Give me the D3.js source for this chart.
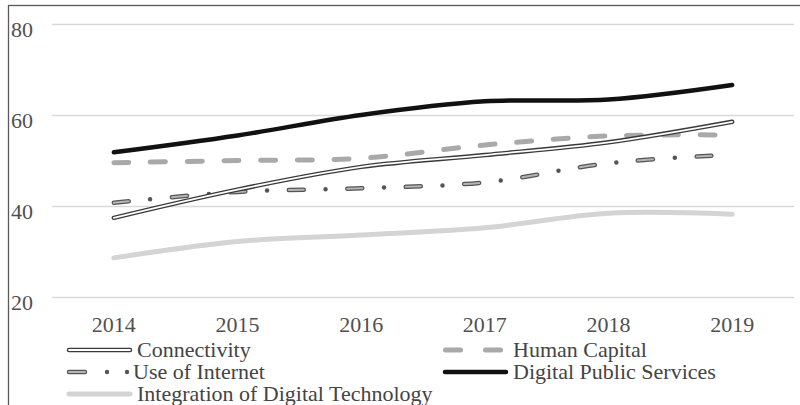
<!DOCTYPE html>
<html><head><meta charset="utf-8">
<script src="https://cdn.jsdelivr.net/npm/d3@7"></script>
<style>
html,body{margin:0;padding:0;background:#fff;overflow:hidden;}
svg{display:block;}
text{font-family:"Liberation Serif","Times New Roman",serif;}
</style></head>
<body>
<svg id="chart" width="800" height="405"></svg>
<script>
const years = ["2014","2015","2016","2017","2018","2019"];
const yTicks = [20,40,60,80];
const connectivity = [37.4, 43.6, 48.6, 51.2, 54.0, 58.5];
const humanCapital = [49.5, 50.0, 50.5, 53.4, 55.4, 55.6];
const useOfInternet = [40.7, 43.1, 43.9, 45.2, 49.4, 51.3];
const digitalPublicServices = [51.8, 55.5, 60.0, 63.0, 63.4, 66.6];
const integrationDigitalTech = [28.6, 32.2, 33.6, 35.2, 38.4, 38.2];
const seriesNames = ["Connectivity","Human Capital","Use of Internet","Digital Public Services","Integration of Digital Technology"];

const svg = d3.select("#chart");
const x = d3.scaleBand().domain(years).range([52, 794]).padding(0);
const y = d3.scaleLinear().domain([20, 80]).range([297, 24]);
const cx = d => x(d) + x.bandwidth()/2;
const FS = 22;

// frame
svg.append("rect").attr("x",8.5).attr("y",5.5).attr("width",900).attr("height",600)
  .attr("fill","none").attr("stroke","#5a5a5a").attr("stroke-width",1.3);

// y axis (gridlines + labels)
const yAxis = d3.axisLeft(y).tickValues(yTicks).tickSize(-(794-52)).tickPadding(19);
const gy = svg.append("g").attr("transform","translate(52,0)").call(yAxis);
gy.select(".domain").remove();
gy.selectAll(".tick line").attr("stroke","#d9d9d9").attr("stroke-width",1.3);
gy.selectAll(".tick text").attr("font-size",FS).attr("fill","#505050")
  .attr("font-family","Liberation Serif, serif").attr("dy","0.55em").attr("y",0);

// x axis labels
const xAxis = d3.axisBottom(x).tickSize(0).tickPadding(0);
const gx = svg.append("g").attr("transform","translate(0,297)").call(xAxis);
gx.select(".domain").remove();
gx.selectAll(".tick text").attr("font-size",FS).attr("fill","#505050")
  .attr("font-family","Liberation Serif, serif").attr("y",35).attr("dy",0);

const line = d3.line().x((d,i)=>cx(years[i])).y(d=>y(d)).curve(d3.curveCatmullRom.alpha(0.5));

// Integration of Digital Technology
svg.append("path").attr("d", line(integrationDigitalTech)).attr("fill","none")
  .attr("stroke","#d4d4d4").attr("stroke-width",5).attr("stroke-linecap","round");

// Human Capital
svg.append("path").attr("d", line(humanCapital)).attr("fill","none")
  .attr("stroke","#a9a9a9").attr("stroke-width",5).attr("stroke-linecap","round")
  .attr("stroke-dasharray","15 21.7");

// Use of Internet (dash-dot, outlined dashes)
svg.append("path").attr("d", line(useOfInternet)).attr("fill","none")
  .attr("stroke","#555").attr("stroke-width",4.5).attr("stroke-linecap","round")
  .attr("stroke-dasharray","15 21.75 0 21.75");
svg.append("path").attr("d", line(useOfInternet)).attr("fill","none")
  .attr("stroke","#b5b5b5").attr("stroke-width",2).attr("stroke-linecap","round")
  .attr("stroke-dasharray","15 43.5");

// Connectivity (double line)
svg.append("path").attr("d", line(connectivity)).attr("fill","none")
  .attr("stroke","#3a3a3a").attr("stroke-width",4.5).attr("stroke-linecap","round");
svg.append("path").attr("d", line(connectivity)).attr("fill","none")
  .attr("stroke","#fff").attr("stroke-width",1.8).attr("stroke-linecap","round");

// Digital Public Services
svg.append("path").attr("d", line(digitalPublicServices)).attr("fill","none")
  .attr("stroke","#111").attr("stroke-width",4.5).attr("stroke-linecap","round");

// Legend
const lg = svg.append("g");
const legText = (tx, ty, s) => lg.append("text").attr("x",tx).attr("y",ty+7)
  .attr("font-size",FS).attr("fill","#444").text(s);
// Connectivity
lg.append("line").attr("x1",69).attr("x2",130).attr("y1",350).attr("y2",350)
  .attr("stroke","#3a3a3a").attr("stroke-width",4.5).attr("stroke-linecap","round");
lg.append("line").attr("x1",69).attr("x2",130).attr("y1",350).attr("y2",350)
  .attr("stroke","#fff").attr("stroke-width",1.8).attr("stroke-linecap","round");
legText(137, 350, seriesNames[0]);
// Use of Internet
lg.append("line").attr("x1",69).attr("x2",85).attr("y1",372).attr("y2",372)
  .attr("stroke","#555").attr("stroke-width",4.5).attr("stroke-linecap","round");
lg.append("line").attr("x1",69).attr("x2",85).attr("y1",372).attr("y2",372)
  .attr("stroke","#b5b5b5").attr("stroke-width",2).attr("stroke-linecap","round");
[107,127].forEach(px => lg.append("circle").attr("cx",px).attr("cy",372).attr("r",2.2).attr("fill","#555"));
legText(133, 372, seriesNames[2]);
// Integration
lg.append("line").attr("x1",69).attr("x2",130).attr("y1",394).attr("y2",394)
  .attr("stroke","#d4d4d4").attr("stroke-width",5).attr("stroke-linecap","round");
legText(137, 394, seriesNames[4]);
// Human Capital
lg.append("line").attr("x1",445.5).attr("x2",505).attr("y1",350).attr("y2",350)
  .attr("stroke","#a9a9a9").attr("stroke-width",5).attr("stroke-linecap","round")
  .attr("stroke-dasharray","15 25");
legText(513, 350, seriesNames[1]);
// Digital Public Services
lg.append("line").attr("x1",445).attr("x2",506).attr("y1",372).attr("y2",372)
  .attr("stroke","#111").attr("stroke-width",4.5).attr("stroke-linecap","round");
legText(513, 372, seriesNames[3]);
</script>
</body></html>
